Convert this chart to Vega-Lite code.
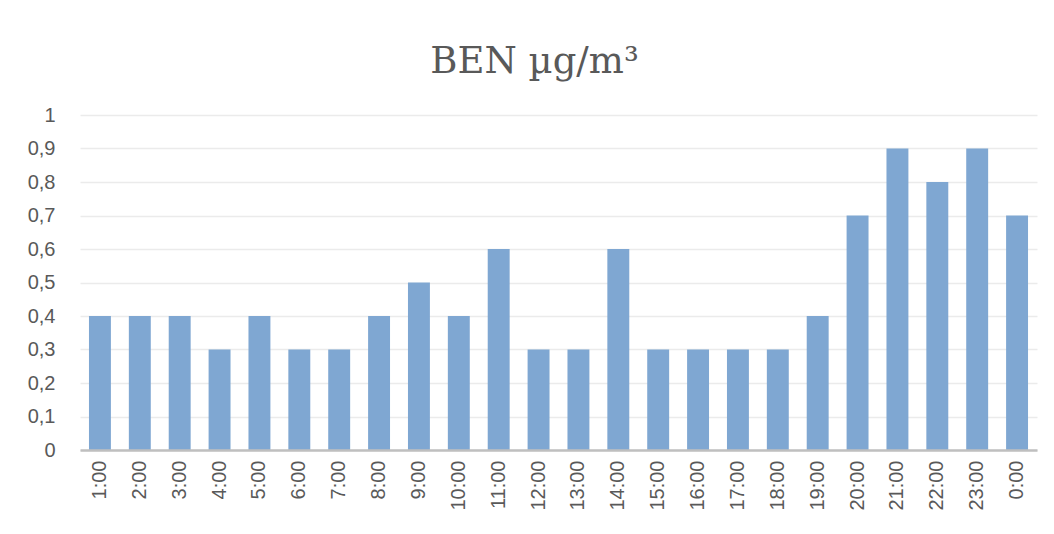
{
  "$schema": "https://vega.github.io/schema/vega-lite/v6.json",
  "autosize": {"type": "none"},
  "width": 957,
  "height": 335,
  "padding": {"left": 80, "top": 115, "right": 17, "bottom": 84},
  "background": "white",
  "title": {
    "text": "BEN µg/m³",
    "font": "DejaVu Serif",
    "fontSize": 37,
    "fontWeight": "normal",
    "color": "#595959",
    "anchor": "middle",
    "offset": 24,
    "dx": -24
  },
  "config": {"view": {"stroke": null}},
  "data": {
    "values": [
      {"hour": "1:00", "value": 0.4},
      {"hour": "2:00", "value": 0.4},
      {"hour": "3:00", "value": 0.4},
      {"hour": "4:00", "value": 0.3},
      {"hour": "5:00", "value": 0.4},
      {"hour": "6:00", "value": 0.3},
      {"hour": "7:00", "value": 0.3},
      {"hour": "8:00", "value": 0.4},
      {"hour": "9:00", "value": 0.5},
      {"hour": "10:00", "value": 0.4},
      {"hour": "11:00", "value": 0.6},
      {"hour": "12:00", "value": 0.3},
      {"hour": "13:00", "value": 0.3},
      {"hour": "14:00", "value": 0.6},
      {"hour": "15:00", "value": 0.3},
      {"hour": "16:00", "value": 0.3},
      {"hour": "17:00", "value": 0.3},
      {"hour": "18:00", "value": 0.3},
      {"hour": "19:00", "value": 0.4},
      {"hour": "20:00", "value": 0.7},
      {"hour": "21:00", "value": 0.9},
      {"hour": "22:00", "value": 0.8},
      {"hour": "23:00", "value": 0.9},
      {"hour": "0:00", "value": 0.7}
    ]
  },
  "mark": {"type": "bar", "color": "#7FA7D2"},
  "encoding": {
    "x": {
      "field": "hour",
      "type": "ordinal",
      "sort": null,
      "scale": {"paddingInner": 0.45, "paddingOuter": 0.225},
      "axis": {
        "title": null,
        "labelAngle": 270,
        "labelAlign": "right",
        "labelBaseline": "middle",
        "labelFont": "Liberation Sans",
        "labelFontSize": 20,
        "labelColor": "#595959",
        "labelPadding": 10,
        "ticks": false,
        "domainColor": "#BFBFBF",
        "domainWidth": 2.5,
        "zindex": 1
      }
    },
    "y": {
      "field": "value",
      "type": "quantitative",
      "scale": {"domain": [0, 1], "nice": false},
      "axis": {
        "title": null,
        "values": [0, 0.1, 0.2, 0.3, 0.4, 0.5, 0.6, 0.7, 0.8, 0.9, 1],
        "format": ".1~f",
        "labelExpr": "replace(datum.label, '.', ',')",
        "labelFont": "Liberation Sans",
        "labelFontSize": 20,
        "labelColor": "#595959",
        "labelPadding": 25,
        "ticks": false,
        "domain": false,
        "gridColor": "#EBEBEB",
        "gridWidth": 1.3
      }
    }
  }
}
